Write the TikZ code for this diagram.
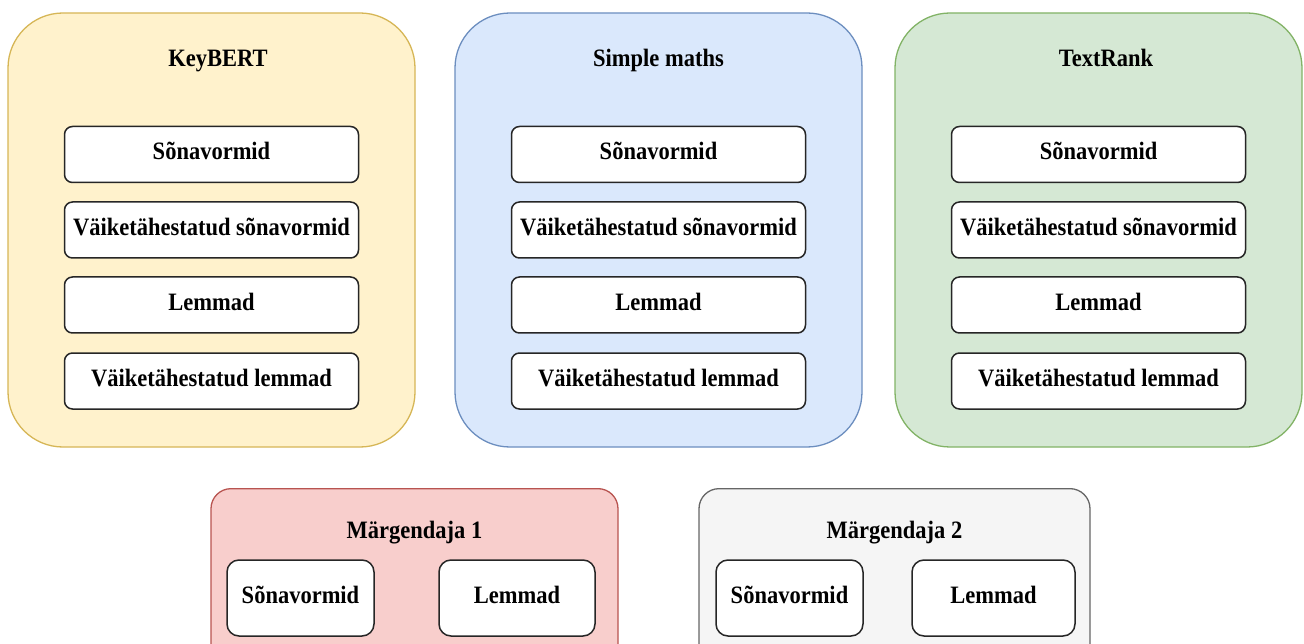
\documentclass[tikz,border=0pt]{standalone}
\usepackage{fontspec}
\setmainfont{Liberation Serif}[FakeStretch=0.9]
\usepackage{xcolor}
\usetikzlibrary{positioning}
\definecolor{kbfill}{HTML}{FFF2CC}\definecolor{kbline}{HTML}{D6B656}
\definecolor{smfill}{HTML}{DAE8FC}\definecolor{smline}{HTML}{6C8EBF}
\definecolor{trfill}{HTML}{D5E8D4}\definecolor{trline}{HTML}{82B366}
\definecolor{mofill}{HTML}{F8CECC}\definecolor{moline}{HTML}{B85450}
\definecolor{mtfill}{HTML}{F5F5F5}\definecolor{mtline}{HTML}{666666}
\tikzset{panel/.style={draw=#1line, fill=#1fill, line width=1.3pt, inner sep=0pt}}
\tikzset{entry/.style={draw=black!85, fill=white, line width=1.5pt, rounded corners=8pt, inner sep=0pt, text height=17pt, text depth=6pt}}
\tikzset{paneltitle/.style={inner sep=0pt, text height=17pt, text depth=0pt}}
\newcommand{\methodpanel}[5]{%
\node[panel=#5, rounded corners=55pt, minimum width=407pt, minimum height=434pt] (#1) at (#2,230) {};
\node[paneltitle] (#1title) at (#3,58.5) {#4};
\node[entry, minimum width=294pt, minimum height=56pt] (#1a) at (#2,154.5) {Sõnavormid};
\node[entry, minimum width=294pt, minimum height=56pt] (#1b) at (#2,230) {Väiketähestatud sõnavormid};
\node[entry, minimum width=294pt, minimum height=56pt] (#1c) at (#2,305) {Lemmad};
\node[entry, minimum width=294pt, minimum height=56pt] (#1d) at (#2,381) {Väiketähestatud lemmad};
}

\begin{document}
\begin{tikzpicture}[x=1pt, y=-1pt, every node/.style={font=\fontsize{25}{30}\selectfont\bfseries}]
\useasboundingbox (0,0) rectangle (1304,644);
\clip (0,0) rectangle (1304,644);
\methodpanel{kb}{211.5}{218}{KeyBERT}{kb}
\methodpanel{sm}{658.5}{658.5}{Simple maths}{sm}
\methodpanel{tr}{1098.5}{1106}{TextRank}{tr}
% taggers, cut off at the bottom edge
\node[panel=mo, rounded corners=20pt, minimum width=407pt, minimum height=200pt, anchor=north] (tagone) at (414.5,488) {};
\node[paneltitle] (tagonetitle) at (414.5,530) {Märgendaja 1};
\node[entry, rounded corners=12pt, minimum width=147pt, minimum height=76pt] (tagonea) at (300.5,598) {Sõnavormid};
\node[entry, rounded corners=12pt, minimum width=156pt, minimum height=76pt] (tagoneb) at (517,598) {Lemmad};
\node[panel=mt, rounded corners=20pt, minimum width=391pt, minimum height=200pt, anchor=north] (tagtwo) at (894.5,488) {};
\node[paneltitle] (tagtwotitle) at (894.5,530) {Märgendaja 2};
\node[entry, rounded corners=12pt, minimum width=147pt, minimum height=76pt] (tagtwoa) at (789.5,598) {Sõnavormid};
\node[entry, rounded corners=12pt, minimum width=163pt, minimum height=76pt] (tagtwob) at (993.5,598) {Lemmad};
\end{tikzpicture}
\end{document}
